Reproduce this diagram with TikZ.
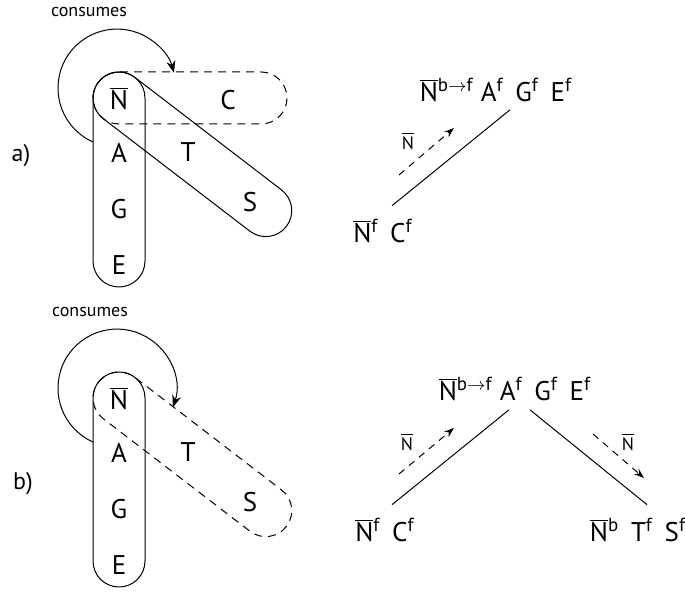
\documentclass[tikz,border=0pt]{standalone}
\usepackage{fontspec}
\setmainfont{PT Sans}
\usepackage{tikz}
\usetikzlibrary{positioning,arrows.meta}
\newcommand{\nbar}{\ensuremath{\overline{\mbox{N}}}}
\newcommand{\up}[1]{\textsuperscript{#1}}

\begin{document}
\begin{tikzpicture}[x=0.5pt, y=0.5pt, line width=0.5pt,
    letter/.style={font=\fontsize{13.5}{16}\selectfont, inner sep=0pt, anchor=base},
    part/.style={font=\fontsize{12}{14}\selectfont, inner sep=0pt},
    tiny/.style={font=\fontsize{9}{11}\selectfont, inner sep=0pt},
    box/.style={rounded corners=13pt},
    dbox/.style={box, dash pattern=on 4pt off 3pt},
    flow/.style={-{Stealth[length=5pt,width=3.5pt]}, dash pattern=on 3.5pt off 3pt},
    eats/.style={-{Stealth[length=6pt,width=4.5pt]}}]
        \useasboundingbox (0,0) rectangle (685,592);
        % a)
        \node[part] (lbla) at (21,436) {a)};
        \node[tiny] (consa) at (89,580) {consumes};
        \draw[dbox] (93,468) rectangle (287,520);
        \draw[box] (93,305) rectangle (145,520);
        \begin{scope}[shift={(119,494)}, rotate=-37.5]
          \draw[box] (-26,-26) rectangle (211,26);
        \end{scope}
        \node[letter] (Na) at (119,482) {\nbar};
        \node[letter] (Aa) at (119,429) {A};
        \node[letter] (Ga) at (119,373) {G};
        \node[letter] (Ea) at (119,317) {E};
        \node[letter] (Ca) at (228,482) {C};
        \node[letter] (Ta) at (188,430) {T};
        \node[letter] (Sa) at (250,380) {S};
        \coordinate (ca) at (93,450);
        \draw[eats] (ca) arc[start angle=246, end angle=15, radius=29.5pt];
        \node[letter] (topa) at (496,490) {\nbar\up{b$\to$f} A\up{f}\, G\up{f}\, E\up{f}};
        \node[letter] (lefta) at (383,349) {\nbar\up{f}\, C\up{f}};
        \draw ([shift={(14,-7)}]topa.south) -- ([shift={(9,13)}]lefta.north);
        \coordinate (fa1) at (399,417);
        \coordinate (fa2) at (454,464);
        \draw[flow] (fa1) -- (fa2);
        \node[tiny] (la) at (408,451) {\nbar};
        % b)
        \node[part] (lblb) at (23,108) {b)};
        \node[tiny] (consb) at (90,280) {consumes};
        \draw[box] (93,5) rectangle (145,220);
        \begin{scope}[shift={(119,194)}, rotate=-37.5]
          \draw[dbox] (-26,-26) rectangle (211,26);
        \end{scope}
        \node[letter] (Nb) at (119,182) {\nbar};
        \node[letter] (Ab) at (119,129) {A};
        \node[letter] (Gb) at (119,73) {G};
        \node[letter] (Eb) at (119,17) {E};
        \node[letter] (Tb) at (188,130) {T};
        \node[letter] (Sb) at (250,80) {S};
        \coordinate (cb) at (93,150);
        \draw[eats] (cb) arc[start angle=246, end angle=-19, radius=29.5pt];
        \node[letter] (topb) at (515,191) {\nbar\up{b$\to$f} A\up{f}\, G\up{f}\, E\up{f}};
        \node[letter] (leftb) at (385,50) {\nbar\up{f}\, C\up{f}};
        \node[letter] (rightb) at (638,50) {\nbar\up{b}\, T\up{f}\, S\up{f}};
        \draw ([shift={(-6,-8)}]topb.south) -- ([shift={(7,13)}]leftb.north);
        \draw ([shift={(15,-8)}]topb.south) -- ([shift={(9,13)}]rightb.north);
        \coordinate (fb1) at (399,118);
        \coordinate (fb2) at (454,164);
        \draw[flow] (fb1) -- (fb2);
        \node[tiny] (lb1) at (407,150) {\nbar};
        \coordinate (fb3) at (593,158);
        \coordinate (fb4) at (644,114);
        \draw[flow] (fb3) -- (fb4);
        \node[tiny] (lb2) at (628,150) {\nbar};
      \end{tikzpicture}
\end{document}
